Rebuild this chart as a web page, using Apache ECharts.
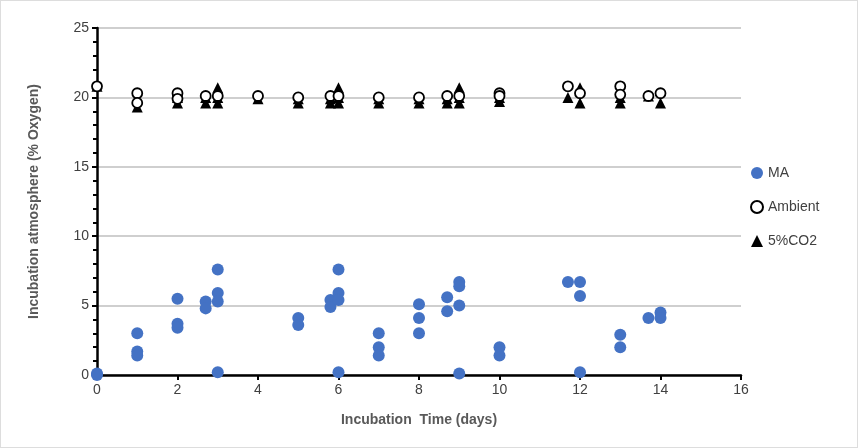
<!DOCTYPE html><html><head><meta charset="utf-8"><script src="https://cdn.jsdelivr.net/npm/echarts@6/dist/echarts.min.js"></script></head><body style="margin:0"><div id="c" style="width:858px;height:448px;box-sizing:border-box;border:1px solid #ddd"></div><script>
const maData=[[0,0.1],[0,0],[1,3.0],[1,1.7],[1,1.4],[2,5.5],[2,3.7],[2,3.4],[2.7,5.3],[2.7,4.8],[3,7.6],[3,5.9],[3,5.3],[3,0.2],[5,4.1],[5,3.6],[5.8,5.4],[5.8,4.9],[6,7.6],[6,5.9],[6,5.4],[6,0.2],[7,3.0],[7,2.0],[7,1.4],[8,5.1],[8,4.1],[8,3.0],[8.7,5.6],[8.7,4.6],[9,6.7],[9,6.4],[9,5.0],[9,0.1],[10,2.0],[10,1.4],[11.7,6.7],[12,6.7],[12,5.7],[12,0.2],[13,2.9],[13,2.0],[13.7,4.1],[14,4.5],[14,4.1]];
const ambientData=[[0,20.8],[1,20.3],[1,19.6],[2,20.3],[2,19.9],[2.7,20.1],[3,20.1],[4,20.1],[5,20.0],[5.8,20.1],[6,20.1],[7,20.0],[8,20.0],[8.7,20.1],[9,20.1],[10,20.3],[10,20.1],[11.7,20.8],[12,20.3],[13,20.8],[13,20.2],[13.7,20.1],[14,20.3]];
const co2Data=[[0,20.8],[1,19.3],[2,19.6],[2,20.0],[2.7,19.6],[2.7,20.0],[3,20.7],[3,20.0],[3,19.6],[4,19.9],[5,19.6],[5,19.9],[5.8,19.6],[5.8,19.9],[6,20.7],[6,20.0],[6,19.6],[7,19.6],[7,19.9],[8,19.6],[8,19.9],[8.7,19.6],[8.7,19.9],[9,20.7],[9,20.0],[9,19.6],[10,19.7],[10,20.0],[11.7,20.0],[12,20.7],[12,19.6],[13,19.6],[13,20.0],[13.7,20.1],[14,19.6]];
const ch=echarts.init(document.getElementById('c'));
const lab={color:'#404040',fontSize:14,fontFamily:'Liberation Sans'};
ch.setOption({animation:false,
grid:{left:96,right:116,top:27,bottom:72},
legend:{orient:'vertical',left:744,top:160,itemGap:20,itemWidth:12,itemHeight:12,textStyle:{color:'#404040',fontSize:14,fontFamily:'Liberation Sans'},data:['MA','Ambient','5%CO2']},
xAxis:{type:'value',min:0,max:16,interval:2,name:'Incubation  Time (days)',nameLocation:'middle',nameGap:38,nameTextStyle:{color:'#595959',fontWeight:'bold',fontSize:14,fontFamily:'Liberation Sans'},axisLine:{lineStyle:{color:'#000',width:2.5}},axisTick:{show:true,lineStyle:{color:'#000',width:2}},axisLabel:lab,splitLine:{show:false}},
yAxis:{type:'value',min:0,max:25,interval:5,name:'Incubation atmosphere (% Oxygen)',nameLocation:'middle',nameGap:56,nameTextStyle:{color:'#595959',fontWeight:'bold',fontSize:14,fontFamily:'Liberation Sans'},axisLine:{show:true,lineStyle:{color:'#000',width:2.5}},axisTick:{show:true,lineStyle:{color:'#000',width:2}},minorTick:{show:true,splitNumber:5,length:4,lineStyle:{color:'#000',width:2}},axisLabel:lab,splitLine:{lineStyle:{color:'#bfbfbf',width:1.5}}},
series:[
{name:'MA',type:'scatter',data:maData,symbol:'circle',symbolSize:12,itemStyle:{color:'#4472c4',opacity:1},z:3},
{name:'Ambient',type:'scatter',data:ambientData,symbol:'circle',symbolSize:10,itemStyle:{color:'#fff',borderColor:'#000',borderWidth:1.8,opacity:1},z:4},
{name:'5%CO2',type:'scatter',data:co2Data,symbol:'triangle',symbolSize:11,itemStyle:{color:'#000',opacity:1},z:3}
]});
</script></body></html>
